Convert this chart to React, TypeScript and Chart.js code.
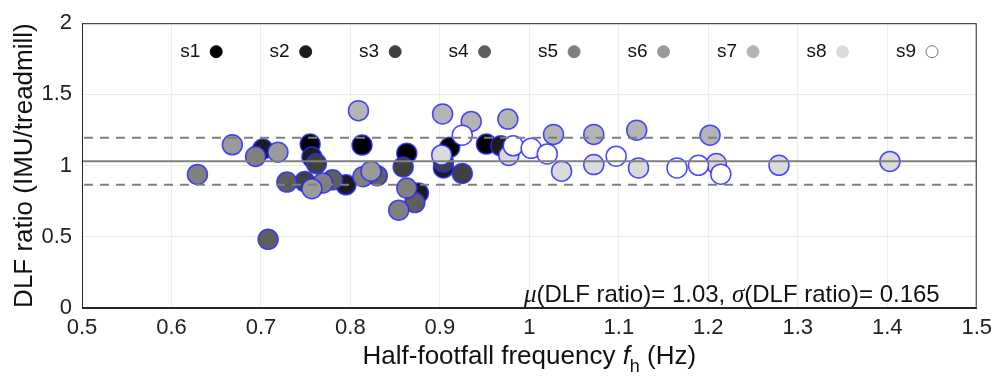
import React, { useEffect, useRef } from "react";
import { Chart, registerables } from "chart.js";

Chart.register(...registerables);

// Half-footfall frequency (Hz) and DLF ratio per subject
const s1F = [0.755, 0.813, 0.863, 0.911, 0.952];
const s1R = [1.151, 1.144, 1.087, 1.128, 1.151];
const s2F = [0.702, 0.757, 0.795, 0.876, 0.904, 0.968];
const s2R = [1.116, 1.06, 0.865, 0.808, 0.984, 1.139];
const s3F = [0.762, 0.749, 0.859, 0.925, 0.904];
const s3R = [1.014, 0.888, 0.991, 0.945, 1.025];
const s4F = [0.708, 0.729, 0.78, 0.872, 0.83];
const s4R = [0.482, 0.884, 0.9, 0.74, 0.929];
const s5F = [0.629, 0.694, 0.769, 0.814, 0.863, 0.854];
const s5R = [0.938, 1.064, 0.877, 0.922, 0.842, 0.687];
const s6F = [0.668, 0.719, 0.757, 0.823];
const s6R = [1.146, 1.094, 0.838, 0.961];
const s7F = [0.809, 0.903, 0.935, 0.976, 1.027, 1.072, 1.12, 1.202];
const s7R = [1.386, 1.363, 1.31, 1.327, 1.219, 1.219, 1.249, 1.214];
const s8F = [0.902, 0.977, 1.036, 1.072, 1.122, 1.209, 1.279, 1.403];
const s8R = [1.075, 1.071, 0.961, 1.007, 0.984, 1.014, 1.002, 1.029];
const s9F = [0.925, 0.982, 1.002, 1.02, 1.097, 1.165, 1.189, 1.214];
const s9R = [1.214, 1.139, 1.121, 1.082, 1.066, 0.984, 1.002, 0.94];

const subjectNames = ["s1", "s2", "s3", "s4", "s5", "s6", "s7", "s8", "s9"];
const subjectFreqs = [s1F, s2F, s3F, s4F, s5F, s6F, s7F, s8F, s9F];
const subjectRatios = [s1R, s2R, s3R, s4R, s5R, s6R, s7R, s8R, s9R];
const subjectColors = ["#000000", "#1c1c1c", "#404040", "#5e5e5e", "#808080", "#9a9a9a", "#b4b4b4", "#dadada", "#ffffff"];

// legend placed in data units
const legendX = [0.65, 0.75, 0.85, 0.95, 1.05, 1.15, 1.25, 1.35, 1.45];
const legendY = 1.8;

const meanRatio = 1.03;
const sdRatio = 0.165;

const xTicks = [0.5, 0.6, 0.7, 0.8, 0.9, 1.0, 1.1, 1.2, 1.3, 1.4, 1.5];
const yTicks = [0, 0.5, 1, 1.5, 2];

const FONT = "'Liberation Sans', Arial, Helvetica, sans-serif";

export default function App() {
  const ref = useRef<HTMLCanvasElement | null>(null);

  useEffect(() => {
    const canvas = ref.current;
    if (!canvas) return;

    const overlay = {
      id: "overlay",
      afterDatasetsDraw(chart: any) {
        const { ctx, chartArea, scales } = chart;
        const xs = scales.x;
        const ys = scales.y;
        ctx.save();
        ctx.beginPath();
        ctx.rect(chartArea.left, chartArea.top, chartArea.right - chartArea.left, chartArea.bottom - chartArea.top);
        ctx.clip();
        // mean and +/- sd lines
        ctx.strokeStyle = "#7f7f7f";
        ctx.lineWidth = 2;
        ctx.setLineDash([]);
        let y = ys.getPixelForValue(meanRatio);
        ctx.beginPath();
        ctx.moveTo(chartArea.left, y);
        ctx.lineTo(chartArea.right, y);
        ctx.stroke();
        ctx.setLineDash([9, 7]);
        for (const v of [meanRatio + sdRatio, meanRatio - sdRatio]) {
          y = ys.getPixelForValue(v);
          ctx.beginPath();
          ctx.moveTo(chartArea.left + 2, y);
          ctx.lineTo(chartArea.right, y);
          ctx.stroke();
        }
        ctx.restore();

        // legend
        ctx.save();
        const ly = ys.getPixelForValue(legendY);
        for (let i = 0; i < subjectNames.length; i++) {
          const lx = xs.getPixelForValue(legendX[i]);
          ctx.fillStyle = "#111";
          ctx.font = `19px ${FONT}`;
          ctx.textAlign = "right";
          ctx.textBaseline = "middle";
          ctx.fillText(subjectNames[i], lx - 16, ly);
          ctx.beginPath();
          ctx.arc(lx, ly, 6, 0, Math.PI * 2);
          ctx.fillStyle = subjectColors[i];
          ctx.fill();
          ctx.lineWidth = 1;
          ctx.strokeStyle = i === 8 ? "#777" : subjectColors[i];
          ctx.stroke();
        }
        ctx.restore();
      },
      afterDraw(chart: any) {
        const { ctx, chartArea } = chart;
        ctx.save();
        // frame
        ctx.strokeStyle = "#262626";
        ctx.lineWidth = 1;
        ctx.strokeRect(chartArea.left + 0.5, chartArea.top + 0.5, chartArea.right - chartArea.left - 1, chartArea.bottom - chartArea.top - 1);

        // annotation text
        ctx.fillStyle = "#111";
        ctx.textBaseline = "alphabetic";
        ctx.textAlign = "left";
        let x = chart.scales.x.getPixelForValue(0.994);
        const by = chartArea.bottom - 6;
        const parts: [string, boolean][] = [
          ["μ", true],
          ["(DLF ratio)= 1.03, ", false],
          ["σ", true],
          ["(DLF ratio)= 0.165", false],
        ];
        for (const [t, it] of parts) {
          ctx.font = it ? `italic 25px 'Liberation Serif', serif` : `24px ${FONT}`;
          ctx.fillText(t, x, by);
          x += ctx.measureText(t).width;
        }

        // y title
        ctx.save();
        ctx.translate(25, (chartArea.top + chartArea.bottom) / 2);
        ctx.rotate(-Math.PI / 2);
        ctx.font = `26px ${FONT}`;
        ctx.textAlign = "center";
        ctx.textBaseline = "middle";
        ctx.fillStyle = "#111";
        ctx.fillText("DLF ratio (IMU/treadmill)", 0, 0);
        ctx.restore();

        // x title with italic f and subscript h
        const pieces: [string, string, number][] = [
          ["Half-footfall frequency ", `26px ${FONT}`, 0],
          ["f", `italic 26px ${FONT}`, 0],
          ["h", `18px ${FONT}`, 8],
          [" (Hz)", `26px ${FONT}`, 0],
        ];
        let total = 0;
        for (const [t, f] of pieces) {
          ctx.font = f;
          total += ctx.measureText(t).width;
        }
        let tx = (chartArea.left + chartArea.right) / 2 - total / 2;
        const ty = 364;
        ctx.textAlign = "left";
        ctx.textBaseline = "alphabetic";
        for (const [t, f, dy] of pieces) {
          ctx.font = f;
          ctx.fillText(t, tx, ty + dy);
          tx += ctx.measureText(t).width;
        }
        ctx.restore();
      },
    };

    const datasets = subjectNames.map((name, i) => ({
      label: name,
      data: subjectFreqs[i].map((f, j) => ({ x: f, y: subjectRatios[i][j] })),
      backgroundColor: subjectColors[i],
      borderColor: "rgba(40,40,255,0.85)",
      borderWidth: 1.5,
      pointRadius: 10,
      order: subjectNames.length - i,
    }));

    const chart = new Chart(canvas, {
      type: "scatter",
      data: { datasets },
      options: {
        responsive: false,
        animation: false,
        devicePixelRatio: 1,
        layout: { padding: { top: 16, right: 22, left: 0, bottom: 0 } },
        plugins: { legend: { display: false }, tooltip: { enabled: false } },
        scales: {
          x: {
            type: "linear",
            min: 0.5,
            max: 1.5,
            afterFit(scale: any) {
              scale.height = 75;
            },
            afterBuildTicks(scale: any) {
              scale.ticks = xTicks.map((v) => ({ value: v }));
            },
            ticks: {
              color: "#222",
              font: { size: 22, family: FONT },
              padding: 7,
              maxRotation: 0,
              autoSkip: false,
              callback: (v: any) => String(Number(Number(v).toFixed(1))),
            },
            grid: { color: "#ececec", lineWidth: 1, drawTicks: false },
            border: { display: true, color: "#262626" },
          },
          y: {
            type: "linear",
            min: 0,
            max: 2,
            afterFit(scale: any) {
              scale.width = 82;
            },
            afterBuildTicks(scale: any) {
              scale.ticks = yTicks.map((v) => ({ value: v }));
            },
            ticks: {
              color: "#222",
              font: { size: 22, family: FONT },
              padding: 10,
              callback: (v: any) => String(Number(Number(v).toFixed(1))),
            },
            grid: { color: "#ececec", lineWidth: 1, drawTicks: false },
            border: { display: true, color: "#262626" },
          },
        },
      },
      plugins: [overlay],
    });

    return () => chart.destroy();
  }, []);

  return (
    <div style={{ position: "fixed", left: 0, top: 0, width: 999, height: 383, background: "#fff" }}>
      <canvas ref={ref} width={999} height={383} style={{ display: "block", width: 999, height: 383 }} />
    </div>
  );
}
